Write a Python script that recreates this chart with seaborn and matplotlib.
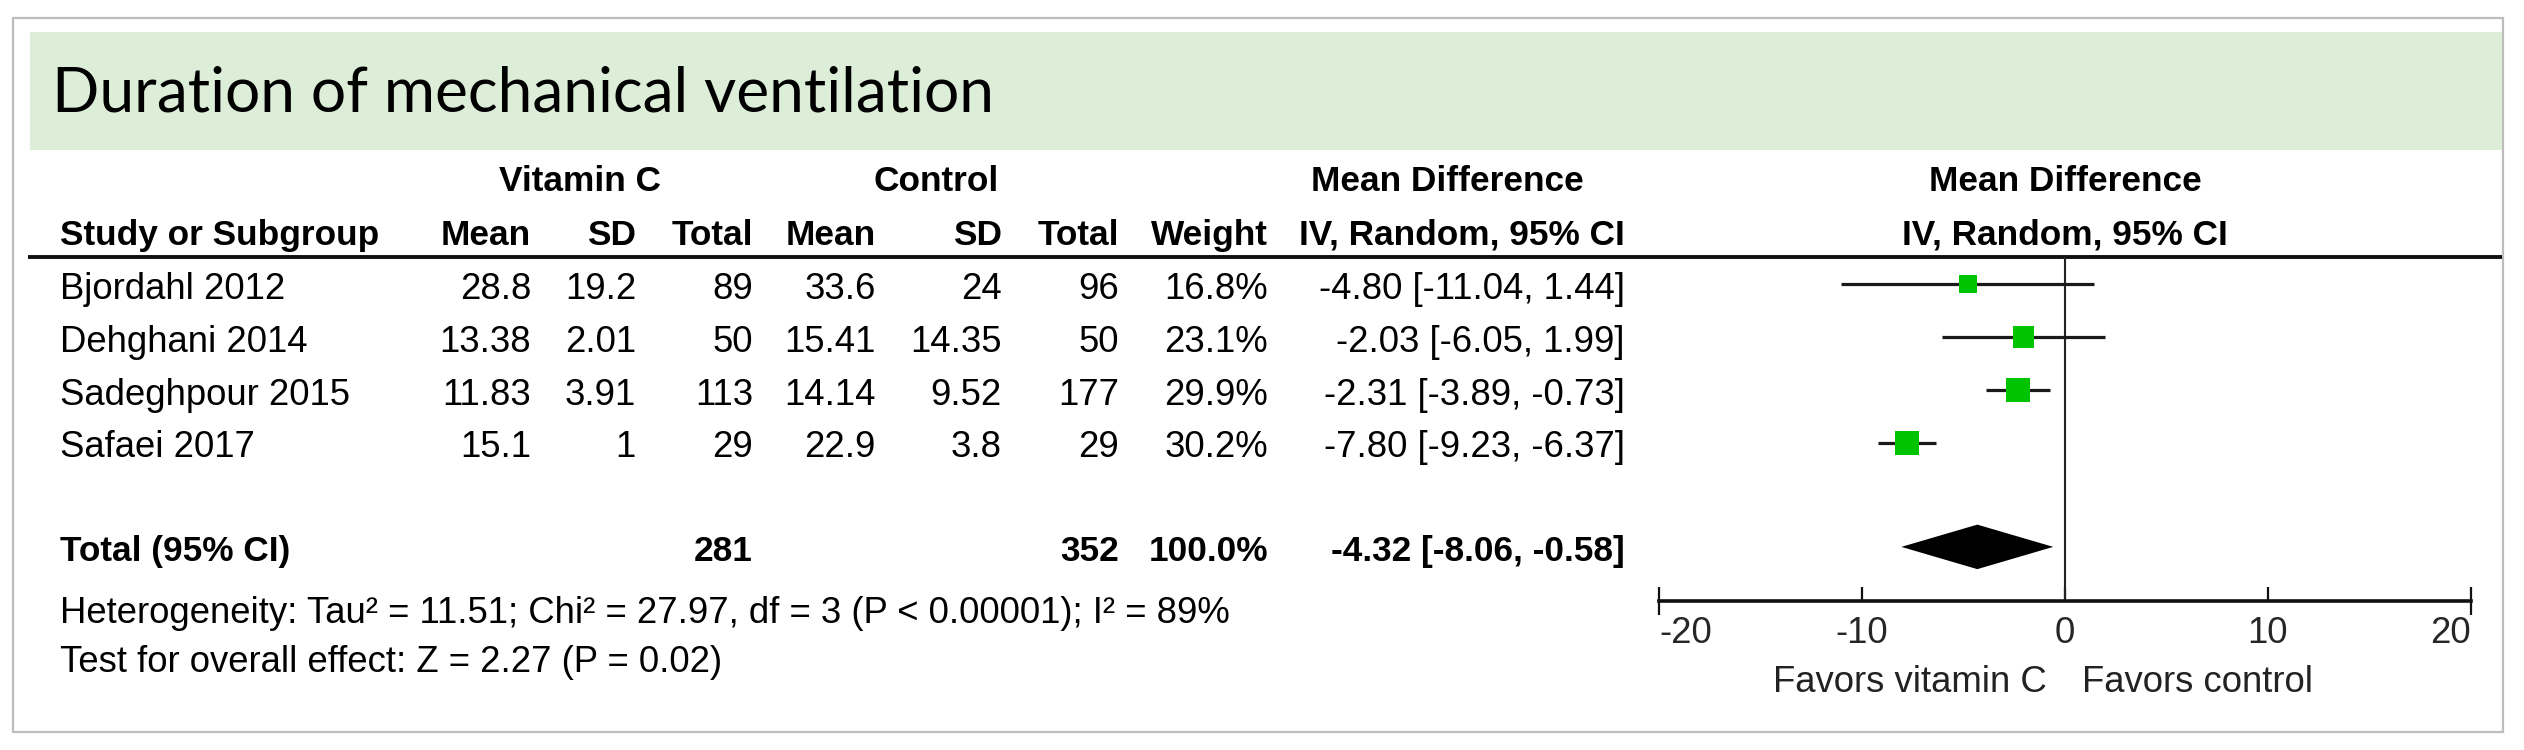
import matplotlib
matplotlib.use("Agg")
import matplotlib.pyplot as plt
from matplotlib.patches import Rectangle
import seaborn as sns
import pandas as pd

# ---------------- data ----------------
studies = ["Bjordahl 2012", "Dehghani 2014", "Sadeghpour 2015", "Safaei 2017"]
vit_mean = ["28.8", "13.38", "11.83", "15.1"]
vit_sd = ["19.2", "2.01", "3.91", "1"]
vit_total = [89, 50, 113, 29]
ctl_mean = ["33.6", "15.41", "14.14", "22.9"]
ctl_sd = ["24", "14.35", "9.52", "3.8"]
ctl_total = [96, 50, 177, 29]
weight = [16.8, 23.1, 29.9, 30.2]
md = [-4.80, -2.03, -2.31, -7.80]
ci_lo = [-11.04, -6.05, -3.89, -9.23]
ci_hi = [1.44, 1.99, -0.73, -6.37]

total_label = "Total (95% CI)"
total_vit_n = 281
total_ctl_n = 352
total_weight = 100.0
total_md = -4.32
total_lo = -8.06
total_hi = -0.58

title = "Duration of mechanical ventilation"
het_text = "Heterogeneity: Tau\u00b2 = 11.51; Chi\u00b2 = 27.97, df = 3 (P < 0.00001); I\u00b2 = 89%"
test_text = "Test for overall effect: Z = 2.27 (P = 0.02)"
xticks = [-20, -10, 0, 10, 20]
fav_left = "Favors vitamin C"
fav_right = "Favors control"

# ---------------- setup ----------------
sns.set_theme(style="white")
plt.rcParams["font.family"] = ["Liberation Sans", "DejaVu Sans"]

W, H = 2524, 750
fig = plt.figure(figsize=(W / 100, H / 100), dpi=100)
fig.patch.set_facecolor("white")

bg = fig.add_axes([0, 0, 1, 1])
bg.set_xlim(0, W)
bg.set_ylim(H, 0)
bg.axis("off")

FS = 26.3
FSB = 25.4
GREEN_BAND = "#DCEED8"

# outer border and title band
bg.add_patch(Rectangle((13, 18), 2490, 714, fill=False, edgecolor="#BDBDBD", lw=1.6))
bg.add_patch(Rectangle((30, 32), 2472, 118, facecolor=GREEN_BAND, edgecolor="none"))
bg.text(52, 112, title, fontsize=44.8, family=["Lato", "DejaVu Sans"], va="baseline", ha="left", color="#000")

def T(x, y, s, ha="left", bold=False, color="#000"):
    bg.text(x, y, s, ha=ha, va="baseline", fontsize=FSB if bold else FS,
            fontweight="bold" if bold else "normal", color=color)

# column right edges
cx = dict(vm=531, vs=636, vt=753, cm=876, cs=1002, ct=1119, w=1268, ci=1625)

# headers
T(580, 191, "Vitamin C", ha="center", bold=True)
T(936, 191, "Control", ha="center", bold=True)
T(1447, 191, "Mean Difference", ha="center", bold=True)
T(2065, 191, "Mean Difference", ha="center", bold=True)
T(60, 245, "Study or Subgroup", bold=True)
for key, lab in [("vm", "Mean"), ("vs", "SD"), ("vt", "Total"), ("cm", "Mean"),
                 ("cs", "SD"), ("ct", "Total"), ("w", "Weight"), ("ci", "IV, Random, 95% CI")]:
    T(cx[key], 245, lab, ha="right", bold=True)
T(2065, 245, "IV, Random, 95% CI", ha="center", bold=True)

bg.plot([28, 2502], [257, 257], color="#111", lw=2.8, solid_capstyle="butt")

# study rows
row_base = 299
row_step = 52.8
for i, s in enumerate(studies):
    y = row_base + row_step * i
    T(60, y, s)
    T(cx["vm"], y, vit_mean[i], ha="right")
    T(cx["vs"], y, vit_sd[i], ha="right")
    T(cx["vt"], y, str(vit_total[i]), ha="right")
    T(cx["cm"], y, ctl_mean[i], ha="right")
    T(cx["cs"], y, ctl_sd[i], ha="right")
    T(cx["ct"], y, str(ctl_total[i]), ha="right")
    T(cx["w"], y, f"{weight[i]:.1f}%", ha="right")
    T(cx["ci"], y, f"{md[i]:.2f} [{ci_lo[i]:.2f}, {ci_hi[i]:.2f}]", ha="right")

# total row
yt = 561
T(60, yt, total_label, bold=True)
T(cx["vt"], yt, str(total_vit_n), ha="right", bold=True)
T(cx["ct"], yt, str(total_ctl_n), ha="right", bold=True)
T(cx["w"], yt, f"{total_weight:.1f}%", ha="right", bold=True)
T(cx["ci"], yt, f"{total_md:.2f} [{total_lo:.2f}, {total_hi:.2f}]", ha="right", bold=True)

T(60, 623, het_text)
T(60, 672, test_text)

# ---------------- forest plot ----------------
x_left, x_right = 1659, 2471
y_top, y_axis = 257, 601
ax = fig.add_axes([x_left / W, (H - y_axis) / H, (x_right - x_left) / W, (y_axis - y_top) / H])
ax.patch.set_alpha(0)
mk_top = 284
mk_step = 53
ax.set_ylim((y_axis - mk_top) / mk_step, (y_top - mk_top) / mk_step)
ax.set_xlim(xticks[0], xticks[-1])

df = pd.DataFrame({"study": studies, "md": md, "lo": ci_lo, "hi": ci_hi,
                   "weight": weight, "row": list(range(len(studies)))})

ax.hlines(df["row"], df["lo"], df["hi"], color="#1a1a1a", lw=2.3, zorder=2)
sns.scatterplot(data=df, x="md", y="row", size="weight", marker="s",
                sizes=(10.0 * min(weight), 10.0 * max(weight)), color="#00C400",
                linewidth=0, legend=False, ax=ax, zorder=3)

# diamond for pooled estimate
rt = 4.96
hh = 0.42
ax.fill([total_lo, total_md, total_hi, total_md], [rt, rt - hh, rt, rt + hh],
        color="black", lw=0, zorder=3)

ax.axvline(0, color="#222", lw=1.5, zorder=1)

for side in ["top", "right", "left"]:
    ax.spines[side].set_visible(False)
ax.spines["bottom"].set_linewidth(2.6)
ax.spines["bottom"].set_color("#111")
ax.set_xticks(xticks)
ax.set_xticklabels([str(t) for t in xticks])
ax.set_yticks([])
ax.tick_params(axis="x", direction="in", length=10, width=1.6, color="#111",
               labelsize=FS, pad=11, bottom=True)
labels = ax.get_xticklabels()
labels[0].set_horizontalalignment("left")
labels[-1].set_horizontalalignment("right")
ax.vlines([xticks[0], xticks[-1]], -0.04, 0.0, transform=ax.get_xaxis_transform(),
          color="#111", lw=1.6, clip_on=False)
ax.set_xlabel("")
ax.set_ylabel("")

T(2047, 692, fav_left, ha="right", color="#222")
T(2082, 692, fav_right, ha="left", color="#222")

fig.savefig("out.png", dpi=100, facecolor="white")
